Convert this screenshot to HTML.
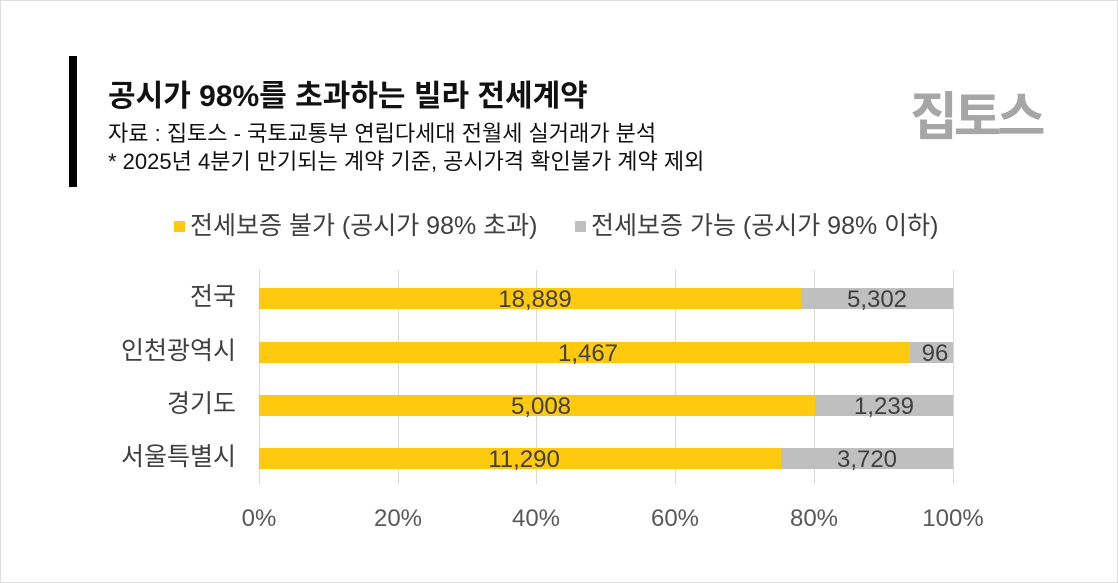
<!DOCTYPE html>
<html><head><meta charset="utf-8"><style>
body{margin:0;width:1118px;height:583px;background:#fff;position:relative;overflow:hidden;font-family:"Liberation Sans","Noto Sans CJK KR",sans-serif;}
.frame{position:absolute;left:0;top:0;width:1116px;height:581px;border:1px solid #ddd;}
.t{position:absolute;white-space:nowrap;transform-origin:0 0;color:#111;line-height:1;}
.g{position:absolute;top:270px;width:1px;height:214px;background:#d9d9d9;}
.b{position:absolute;height:21px;}
.y{background:#FFC90E}.s{background:#BFBFBF}
.v{position:absolute;font-size:24px;line-height:1;color:#404040;transform:translateX(-50%);white-space:nowrap;}
.c{position:absolute;font-size:25px;line-height:1;color:#404040;right:882px;white-space:nowrap;}
.x{position:absolute;top:507px;font-size:24px;line-height:1;color:#595959;transform:translateX(-50%);}
</style></head><body>
<div class="frame"></div>
<div style="position:absolute;left:69px;top:56px;width:8px;height:131px;background:#000"></div>
<div class="t" style="left:108px;top:82px;font-size:30px;font-weight:bold;">공시가 98%를 초과하는 빌라 전세계약</div>
<div class="t" style="left:108px;top:123px;font-size:22px;">자료 : 집토스 - 국토교통부 연립다세대 전월세 실거래가 분석</div>
<div class="t" style="left:108px;top:151px;font-size:22px;">* 2025년 4분기 만기되는 계약 기준, 공시가격 확인불가 계약 제외</div>
<div class="t" style="left:910px;top:92px;font-size:52px;font-weight:bold;color:#a6a6a6;letter-spacing:-4px;">집토스</div>
<div style="position:absolute;left:174px;top:221px;width:11px;height:11px;background:#FFC90E"></div>
<div class="t" style="left:190px;top:214px;font-size:25px;color:#404040;">전세보증 불가 (공시가 98% 초과)</div>
<div style="position:absolute;left:575px;top:221px;width:11px;height:11px;background:#BFBFBF"></div>
<div class="t" style="left:591px;top:214px;font-size:25px;color:#404040;">전세보증 가능 (공시가 98% 이하)</div>
<div class="g" style="left:259px"></div><div class="g" style="left:398px"></div><div class="g" style="left:536px"></div><div class="g" style="left:675px"></div><div class="g" style="left:814px"></div><div class="g" style="left:953px"></div>
<div class="b y" style="left:259px;top:288px;width:542px"></div><div class="b s" style="left:801px;top:288px;width:152px"></div>
<div class="b y" style="left:259px;top:342px;width:651px"></div><div class="b s" style="left:910px;top:342px;width:43px"></div>
<div class="b y" style="left:259px;top:395px;width:556px"></div><div class="b s" style="left:815px;top:395px;width:138px"></div>
<div class="b y" style="left:259px;top:448px;width:522px"></div><div class="b s" style="left:781px;top:448px;width:172px"></div>
<div class="v" style="left:535px;top:288px">18,889</div><div class="v" style="left:877px;top:288px">5,302</div>
<div class="v" style="left:588px;top:342px">1,467</div><div class="v" style="left:935px;top:342px">96</div>
<div class="v" style="left:541px;top:395px">5,008</div><div class="v" style="left:884px;top:395px">1,239</div>
<div class="v" style="left:524px;top:448px">11,290</div><div class="v" style="left:867px;top:448px">3,720</div>
<div class="c" style="top:285px">전국</div>
<div class="c" style="top:339px">인천광역시</div>
<div class="c" style="top:392px">경기도</div>
<div class="c" style="top:445px">서울특별시</div>
<div class="x" style="left:259px">0%</div><div class="x" style="left:398px">20%</div><div class="x" style="left:536px">40%</div><div class="x" style="left:675px">60%</div><div class="x" style="left:814px">80%</div><div class="x" style="left:953px">100%</div>
</body></html>
